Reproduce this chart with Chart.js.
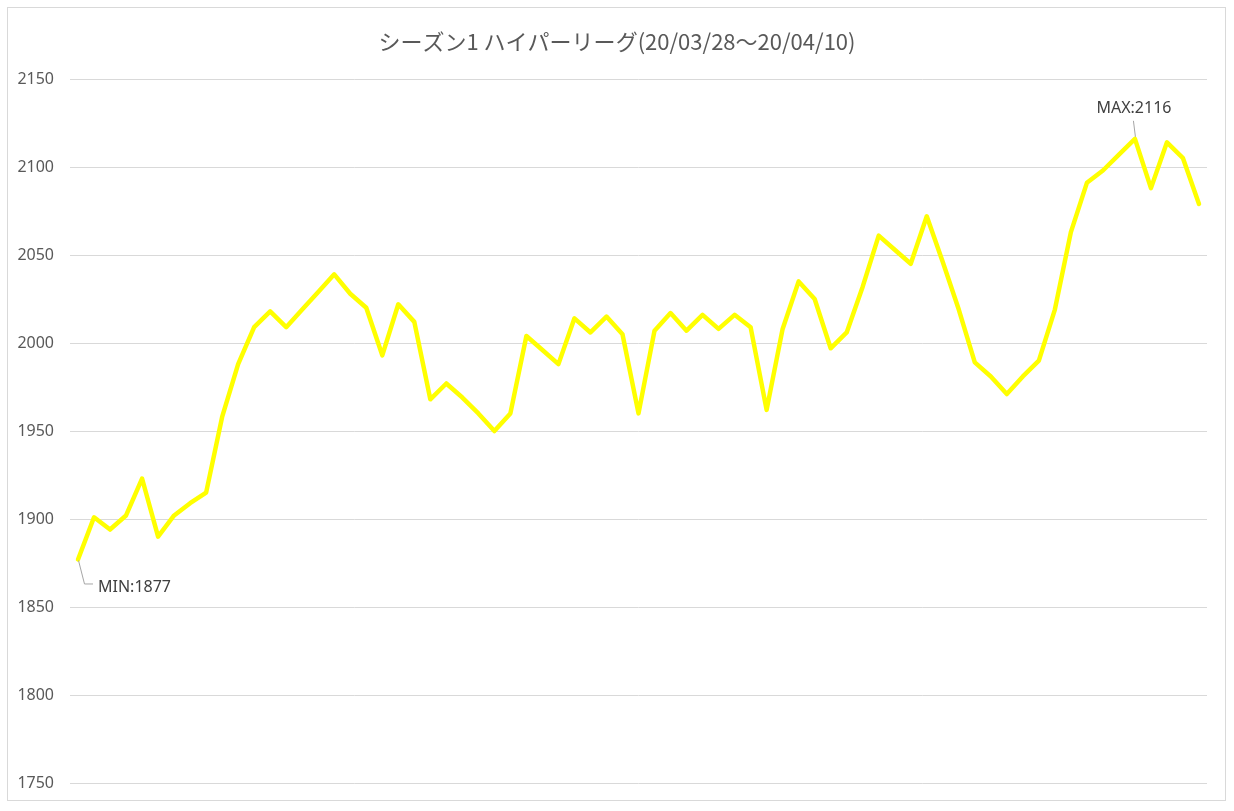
<!DOCTYPE html>
<html>
<head>
<meta charset="utf-8">
<script src="https://cdn.jsdelivr.net/npm/chart.js@4/dist/chart.umd.min.js"></script>
<style>
  html, body { margin: 0; padding: 0; background: #ffffff; }
  #wrap { position: relative; width: 1234px; height: 811px; }
</style>
</head>
<body>
<div id="wrap"><canvas id="c" width="1234" height="811"></canvas></div>
<script>
const chartTitle = 'シーズン1 ハイパーリーグ(20/03/28～20/04/10)';
const categories = ['1','2','3','4','5','6','7','8','9','10','11','12','13','14','15','16','17','18','19','20','21','22','23','24','25','26','27','28','29','30','31','32','33','34','35','36','37','38','39','40','41','42','43','44','45','46','47','48','49','50','51','52','53','54','55','56','57','58','59','60','61','62','63','64','65','66','67','68','69','70','71'];
const ratings = [
  1877, 1901, 1894, 1902, 1923, 1890, 1902, 1909, 1915, 1958,
  1988, 2009, 2018, 2009, 2019, 2029, 2039, 2028, 2020, 1993,
  2022, 2012, 1968, 1977, 1969, 1960, 1950, 1960, 2004, 1996,
  1988, 2014, 2006, 2015, 2005, 1960, 2007, 2017, 2007, 2016,
  2008, 2016, 2009, 1962, 2008, 2035, 2025, 1997, 2006, 2032,
  2061, 2053, 2045, 2072, 2046, 2019, 1989, 1981, 1971, 1981,
  1990, 2019, 2063, 2091, 2098, 2107, 2116, 2088, 2114, 2105,
  2079
];
const yTicks = [1750, 1800, 1850, 1900, 1950, 2000, 2050, 2100, 2150];

const textColor = '#595959';
const gridColor = '#d9d9d9';
const lineColor = '#ffff00';
const labelFont = '16px "Noto Sans", "DejaVu Sans", sans-serif';

const frame = {
  id: 'frame',
  beforeDraw(chart) {
    const ctx = chart.ctx;
    ctx.save();
    ctx.fillStyle = '#ffffff';
    ctx.fillRect(0, 0, chart.width, chart.height);
    ctx.strokeStyle = gridColor;
    ctx.lineWidth = 1;
    ctx.strokeRect(7.5, 7.5, 1218, 793);
    ctx.restore();
  }
};

const minMaxLabels = {
  id: 'minMaxLabels',
  afterDatasetsDraw(chart) {
    const ctx = chart.ctx;
    const meta = chart.getDatasetMeta(0);
    const data = chart.data.datasets[0].data;
    let mi = 0, ma = 0;
    data.forEach((v, i) => { if (v < data[mi]) mi = i; if (v > data[ma]) ma = i; });
    ctx.save();
    ctx.font = labelFont;
    ctx.fillStyle = '#404040';
    ctx.strokeStyle = '#a6a6a6';
    ctx.lineWidth = 1;
    // MIN
    const pm = meta.data[mi];
    ctx.beginPath();
    ctx.moveTo(pm.x + 0.5, pm.y + 1);
    ctx.lineTo(pm.x + 6.5, pm.y + 24.5);
    ctx.lineTo(pm.x + 15, pm.y + 24.5);
    ctx.stroke();
    ctx.textAlign = 'left';
    ctx.textBaseline = 'middle';
    ctx.fillText('MIN:' + data[mi], pm.x + 20, pm.y + 28);
    // MAX
    const pM = meta.data[ma];
    ctx.beginPath();
    ctx.moveTo(pM.x - 1.5, pM.y - 18);
    ctx.lineTo(pM.x + 0.5, pM.y - 2);
    ctx.stroke();
    ctx.textAlign = 'center';
    ctx.fillText('MAX:' + data[ma], pM.x - 1, pM.y - 30);
    ctx.restore();
  }
};

new Chart(document.getElementById('c'), {
  type: 'line',
  data: {
    labels: categories,
    datasets: [{
      data: ratings,
      yAxisID: 'y',
      borderColor: lineColor,
      backgroundColor: lineColor,
      borderWidth: 4.5,
      borderJoinStyle: 'round',
      borderCapStyle: 'round',
      pointRadius: 0,
      pointHoverRadius: 0,
      tension: 0,
      fill: false
    }]
  },
  options: {
    responsive: false,
    animation: false,
    events: [],
    layout: { padding: { top: 18, left: 10, right: 10, bottom: 28 } },
    plugins: {
      legend: { display: false },
      tooltip: { enabled: false },
      title: {
        display: true,
        text: chartTitle,
        color: textColor,
        font: { family: '"Noto Sans CJK JP", "Noto Sans", sans-serif', size: 22, weight: 'normal', lineHeight: 1.2 },
        padding: { top: 10, bottom: 24.6 }
      }
    },
    scales: {
      x: {
        type: 'category',
        offset: true,
        display: false
      },
      y: {
        position: 'left',
        min: yTicks[0],
        max: yTicks[yTicks.length - 1],
        afterFit(axis) { axis.width = 60; },
        border: { display: false },
        grid: { color: gridColor, lineWidth: 1, drawTicks: false },
        ticks: {
          stepSize: yTicks[1] - yTicks[0],
          padding: 16,
          color: textColor,
          font: { family: '"Noto Sans", "DejaVu Sans", sans-serif', size: 16 },
          callback: (v) => String(v)
        }
      },
      yRight: {
        position: 'right',
        min: yTicks[0],
        max: yTicks[yTicks.length - 1],
        afterFit(axis) { axis.width = 17; },
        border: { display: false },
        grid: { display: false, drawTicks: false },
        ticks: { display: false }
      }
    }
  },
  plugins: [frame, minMaxLabels]
});
</script>
</body>
</html>
